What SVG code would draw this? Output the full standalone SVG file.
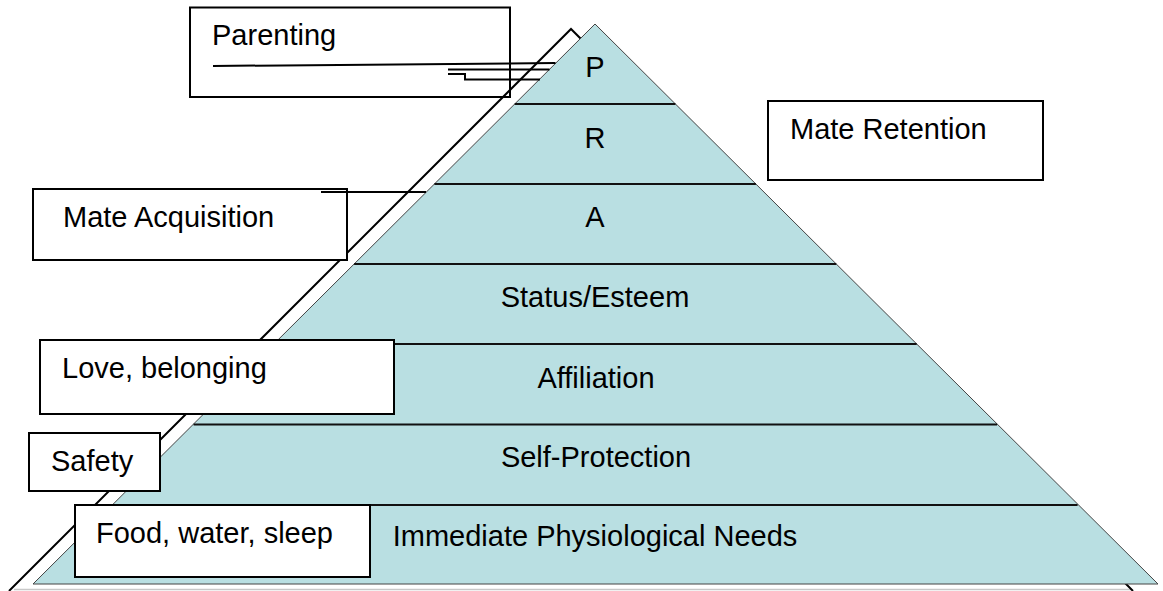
<svg xmlns="http://www.w3.org/2000/svg" width="1163" height="591" viewBox="0 0 1163 591">
<style>
text{font-family:"Liberation Sans",Arial,sans-serif;font-size:29px;fill:#000}
.mid{text-anchor:middle}
.box rect{fill:#fff;stroke:#000;stroke-width:2}
.band{stroke:#111;stroke-width:2.2}
.conn{fill:none;stroke:#000;stroke-width:2}
</style>
<rect width="1163" height="591" fill="#fff"/>
<g id="back-pyramid">
<polygon points="571,29 9,591 1133,591" fill="#fff"/>
<line x1="14" y1="589.5" x2="1131" y2="589.5" stroke="#c8c8c8" stroke-width="1.5"/>
<path d="M9,591 L571,29 L1133,591" fill="none" stroke="#000" stroke-width="2"/>
</g>
<g id="pyramid">
<polygon points="595,24 33,584 1158,584" fill="#b9dfe2" stroke="#444" stroke-width="1"/>
<line class="band" x1="514.7" y1="104" x2="675.4" y2="104"/>
<line class="band" x1="434.4" y1="184" x2="755.9" y2="184"/>
<line class="band" x1="354.1" y1="264" x2="836.3" y2="264"/>
<line class="band" x1="273.9" y1="344" x2="916.7" y2="344"/>
<line class="band" x1="193.6" y1="424.5" x2="997.1" y2="424.5"/>
<line class="band" x1="113.3" y1="505" x2="1077.6" y2="505"/>
</g>
<g id="level-P"><text class="mid" x="595" y="77">P</text></g>
<g id="level-R"><text class="mid" x="595" y="148">R</text></g>
<g id="level-A"><text class="mid" x="595" y="227">A</text></g>
<g id="level-status"><text class="mid" x="595" y="307">Status/Esteem</text></g>
<g id="level-affiliation"><text class="mid" x="596" y="388">Affiliation</text></g>
<g id="level-self-protection"><text class="mid" x="596" y="467">Self-Protection</text></g>
<g id="level-physiological"><text class="mid" x="595" y="546">Immediate Physiological Needs</text></g>
<g id="box-parenting" class="box"><rect x="190" y="7.5" width="320" height="89.5" fill="none" style="fill:none"/><text x="212" y="45">Parenting</text></g>
<g id="box-mate-acquisition" class="box"><rect x="33" y="189" width="314" height="71"/><text x="63" y="227">Mate Acquisition</text></g>
<g id="box-mate-retention" class="box"><rect x="768" y="101" width="275" height="79"/><text x="790" y="139">Mate Retention</text></g>
<g id="box-love" class="box"><rect x="40" y="340" width="354" height="74"/><text x="62" y="378">Love, belonging</text></g>
<g id="box-safety" class="box"><rect x="29" y="433" width="131" height="58"/><text x="51" y="471">Safety</text></g>
<g id="box-food" class="box"><rect x="75" y="505" width="295" height="72"/><text x="96" y="543">Food, water, sleep</text></g>
<g id="connectors">
<path class="conn" d="M213,66 L555.5,63"/>
<path class="conn" d="M448,69.5 L549.5,69.5"/>
<path class="conn" d="M448,74 L465,74 L465,79.5 L540,79.5"/>
<path class="conn" d="M321,192 L426,192"/>
</g>
</svg>
